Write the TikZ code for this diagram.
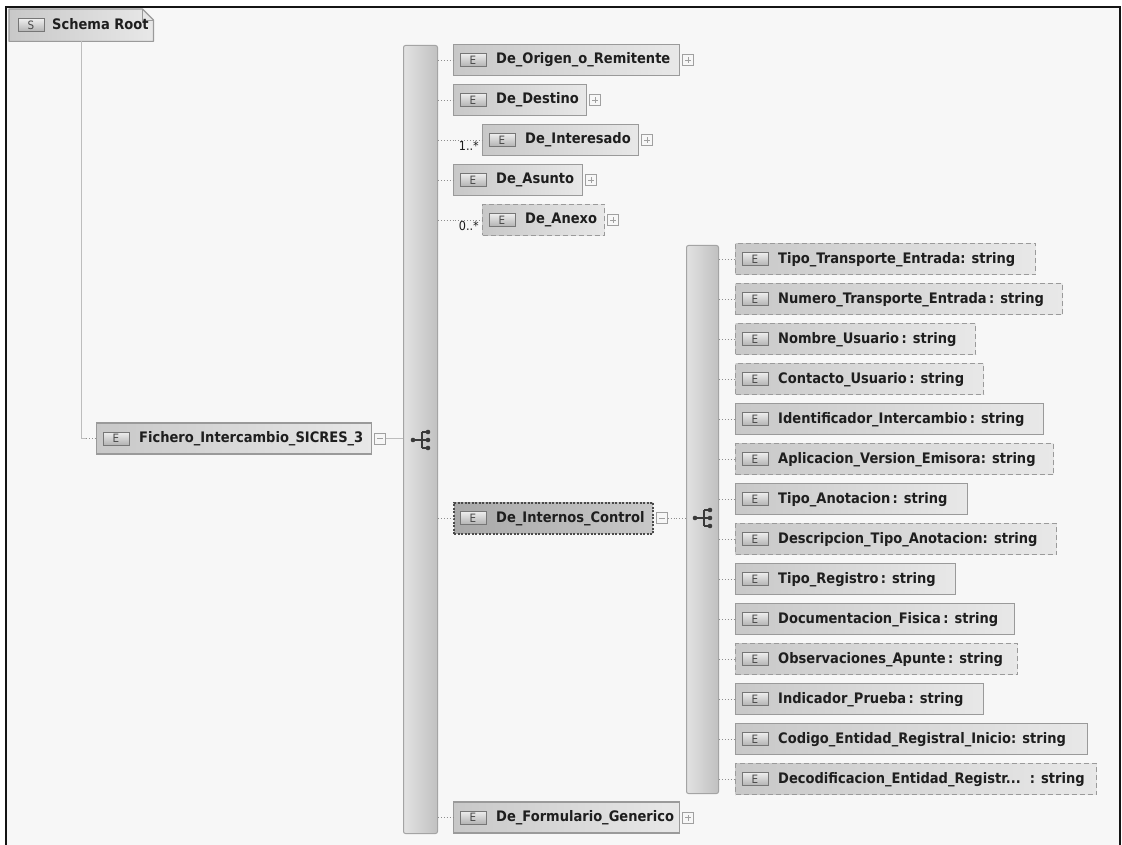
\documentclass[tikz,border=0pt]{standalone}
\usepackage{fontspec}
\newfontfamily\lblfont{DejaVu Sans}[FakeStretch=0.9]
\usetikzlibrary{calc}
\definecolor{bg}{HTML}{F7F7F7}
\definecolor{boxborder}{HTML}{9A9A9A}
\definecolor{boxL}{HTML}{C8C8C8}
\definecolor{boxR}{HTML}{E8E8E8}
\definecolor{selL}{HTML}{A8A8A8}
\definecolor{selR}{HTML}{C8C8C8}
\definecolor{selborder}{HTML}{4A4A4A}
\definecolor{iconT}{HTML}{EEEEEE}
\definecolor{iconB}{HTML}{B2B2B2}
\definecolor{iconborder}{HTML}{767676}
\definecolor{icontext}{HTML}{4A4A4A}
\definecolor{txt}{HTML}{1E1E1E}
\definecolor{barL}{HTML}{E2E2E2}
\definecolor{barR}{HTML}{C0C0C0}
\definecolor{barborder}{HTML}{A4A4A4}
\definecolor{lineC}{HTML}{8E8E8E}
\definecolor{rootline}{HTML}{BDBDBD}
\definecolor{seqC}{HTML}{3A3A3A}
\definecolor{pmC}{HTML}{A0A0A0}

\newcommand\elem[6]{%
  \node[#6, minimum width={#4-#2}, anchor=west] (#1) at (#2,#3) {};
  \node[eicon] (#1i) at ([xshift=20pt]#1.west) {E};
  \node[etext, anchor=west] (#1t) at ([xshift=43pt]#1.west) {#5};
}
\newcommand\plusicon[2]{%
  \node[pmbox, anchor=west] (#1) at ([xshift=2pt]#2.east) {};
  \draw[pmC, line width=0.8pt] ([xshift=-3pt]#1.center) -- ([xshift=3pt]#1.center)
    ([yshift=-3pt]#1.center) -- ([yshift=3pt]#1.center);
}
\newcommand\minusicon[2]{%
  \node[pmbox, anchor=west] (#1) at ([xshift=2pt]#2.east) {};
  \draw[pmC, line width=0.8pt] ([xshift=-3pt]#1.center) -- ([xshift=3pt]#1.center);
}
\newcommand\seqicon[2]{%
  \coordinate (#1) at (#2);
  \draw[seqC, line width=1.1pt] ($(#1)+(-7,0)$) -- ($(#1)+(8,0)$)
    ($(#1)+(2,-8)$) -- ($(#1)+(2,8)$)
    ($(#1)+(2,-8)$) -- ($(#1)+(8,-8)$)
    ($(#1)+(2,8)$) -- ($(#1)+(8,8)$);
  \fill[seqC] ($(#1)+(-7,0)$) circle (2.3pt) ($(#1)+(8,-8)$) circle (2.3pt)
    ($(#1)+(8,0)$) circle (2.3pt) ($(#1)+(8,8)$) circle (2.3pt);
}

\begin{document}
\begin{tikzpicture}[x=1pt,y=-1pt,
  ebox/.style={draw=boxborder, line width=1.2pt, left color=boxL, right color=boxR,
    minimum height=31pt, inner sep=0pt},
  dbox/.style={ebox, dash pattern=on 5pt off 3pt},
  sbox/.style={ebox, draw=selborder, left color=selL, right color=selR,
    dash pattern=on 2pt off 1.5pt, line width=2pt},
  eicon/.style={draw=iconborder, line width=0.8pt, top color=iconT, bottom color=iconB,
    minimum width=26pt, minimum height=13pt, inner sep=0pt,
    font=\lblfont\fontsize{11.5}{11.5}\selectfont, text=icontext},
  etext/.style={font=\lblfont\bfseries\fontsize{14.5}{16}\selectfont, text=txt,
    inner sep=0pt, text height=11pt, text depth=3pt},
  mult/.style={font=\lblfont\fontsize{12.5}{13}\selectfont, text=txt, inner sep=0pt},
  bar/.style={draw=barborder, line width=1pt, left color=barL, right color=barR,
    rounded corners=2pt, inner sep=0pt},
  pmbox/.style={draw=pmC, line width=0.7pt, fill=bg, minimum size=11pt, inner sep=0pt},
  conn/.style={draw=lineC, line width=0.9pt, dotted},
  rootln/.style={draw=rootline, line width=1.2pt}
]
\useasboundingbox (0,0) rectangle (1122,845);
\fill[white] (0,0) rectangle (1122,845);
\fill[bg] (6,7) rectangle (1120,845);
\draw[line width=2.6pt, black!92, line join=miter] (6,846) -- (6,7) -- (1120,7) -- (1120,846);

% schema root
\node[minimum width=144pt, minimum height=32pt, inner sep=0pt, anchor=north west] (root) at (9,9) {};
\shade[left color=boxL, right color=boxR] (root.north west) -- ([xshift=-11pt]root.north east)
  -- ([yshift=-11pt]root.north east) -- (root.south east) -- (root.south west) -- cycle;
\draw[boxborder, line width=1.2pt, line join=round] (root.north west) -- ([xshift=-11pt]root.north east)
  -- ([yshift=-11pt]root.north east) -- (root.south east) -- (root.south west) -- cycle;
\draw[boxborder, line width=0.8pt] ([xshift=-11pt]root.north east) -- ([xshift=-11pt,yshift=-11pt]root.north east)
  -- ([yshift=-11pt]root.north east);
\node[eicon] (rooti) at ([xshift=22pt]root.west) {S};
\node[etext, anchor=west] (roott) at ([xshift=43pt]root.west) {Schema Root};

% sequence bars
\node[bar, minimum width=34pt, minimum height=788pt, anchor=north west] (seq1) at (403,45) {};
\node[bar, minimum width=32pt, minimum height=548pt, anchor=north west] (seq2) at (686,245) {};

% main element
\elem{fich}{96}{438.5}{371}{Fichero\_Intercambio\_SICRES\_3}{ebox}
\minusicon{fichm}{fich}

% children of first sequence
\elem{orig}{453}{60}{679}{De\_Origen\_o\_Remitente}{ebox}
\plusicon{origp}{orig}
\elem{dest}{453}{100}{586}{De\_Destino}{ebox}
\plusicon{destp}{dest}
\elem{inter}{482}{140}{638}{De\_Interesado}{ebox}
\plusicon{interp}{inter}
\elem{asun}{453}{180}{582}{De\_Asunto}{ebox}
\plusicon{asunp}{asun}
\elem{anex}{482}{220}{604}{De\_Anexo}{dbox}
\plusicon{anexp}{anex}
\elem{intc}{453}{518}{652}{De\_Internos\_Control}{sbox}
\minusicon{intcm}{intc}
\elem{form}{453}{817.5}{679}{De\_Formulario\_Generico}{ebox}
\plusicon{formp}{form}

\node[mult, anchor=north east] (intermult) at ([xshift=-3pt,yshift=-1pt]inter.west) {1..*};
\node[mult, anchor=north east] (anexmult) at ([xshift=-3pt,yshift=-1pt]anex.west) {0..*};

% children of second sequence
\elem{r1}{735}{259}{1035}{Tipo\_Transporte\_Entrada: string}{dbox}
\elem{r2}{735}{299}{1062}{Numero\_Transporte\_Entrada\,: string}{dbox}
\elem{r3}{735}{339}{975}{Nombre\_Usuario\,: string}{dbox}
\elem{r4}{735}{379}{983}{Contacto\_Usuario\,: string}{dbox}
\elem{r5}{735}{419}{1043}{Identificador\_Intercambio\,: string}{ebox}
\elem{r6}{735}{459}{1053}{Aplicacion\_Version\_Emisora: string}{dbox}
\elem{r7}{735}{499}{967}{Tipo\_Anotacion\,: string}{ebox}
\elem{r8}{735}{539}{1056}{Descripcion\_Tipo\_Anotacion: string}{dbox}
\elem{r9}{735}{579}{955}{Tipo\_Registro\,: string}{ebox}
\elem{r10}{735}{619}{1014}{Documentacion\_Fisica\,: string}{ebox}
\elem{r11}{735}{659}{1017}{Observaciones\_Apunte\,: string}{dbox}
\elem{r12}{735}{699}{983}{Indicador\_Prueba\,: string}{ebox}
\elem{r13}{735}{739}{1087}{Codigo\_Entidad\_Registral\_Inicio: string}{ebox}
\elem{r14}{735}{779}{1096}{Decodificacion\_Entidad\_Registr...\ \ : string}{dbox}

% connectors
\draw[rootln] (root.south) |- ([xshift=-10pt]fich.west);
\draw[conn] ([xshift=-10pt]fich.west) -- (fich.west);
\draw[rootln] (fichm.east) -- (fichm.east -| seq1.west);
\foreach \n in {orig,dest,inter,asun,anex,intc,form}
  \draw[conn] (\n.west -| seq1.east) -- (\n.west);
\draw[conn] (intcm.east) -- (intcm.east -| seq2.west);
\foreach \n in {r1,r2,r3,r4,r5,r6,r7,r8,r9,r10,r11,r12,r13,r14}
  \draw[conn] (\n.west -| seq2.east) -- (\n.west);

% sequence icons
\seqicon{seq1i}{420,440}
\seqicon{seq2i}{702,518}
\end{tikzpicture}
\end{document}
